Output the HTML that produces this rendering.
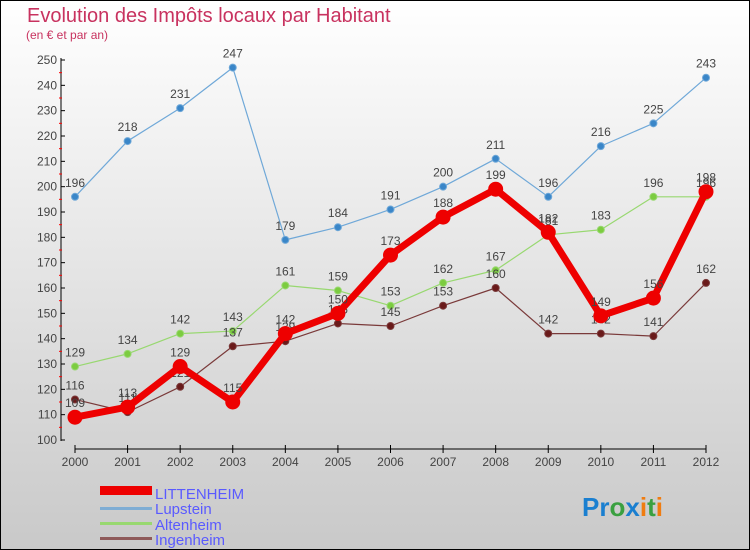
<!DOCTYPE html>
<html><head><meta charset="utf-8"><style>
html,body{margin:0;padding:0}
body{width:750px;height:550px;overflow:hidden;font-family:"Liberation Sans",sans-serif}
svg{display:block}
</style></head><body>
<svg id="c" width="750" height="550">
<defs><linearGradient id="bg" x1="0" y1="0" x2="0" y2="1"><stop offset="0" stop-color="#ffffff"/><stop offset="1" stop-color="#c9c9c9"/></linearGradient></defs>
<rect x="0.5" y="0.5" width="749" height="549" fill="url(#bg)" stroke="#000"/>
<text x="27" y="22" font-size="20" fill="#c8325f">Evolution des Impôts locaux par Habitant</text>
<text x="26" y="39" font-size="12" fill="#c8325f">(en € et par an)</text>
<g id="axes"></g><g id="series"></g>
<g>
<rect x="100" y="486" width="52" height="9" fill="#e00"/>
<text x="155" y="499" font-size="15" fill="#5a5aff">LITTENHEIM</text>
<rect x="100" y="507" width="52" height="3" fill="#7fadd4"/>
<text x="155" y="514" font-size="15" fill="#5a5aff">Lupstein</text>
<rect x="100" y="522" width="52" height="3" fill="#98d870"/>
<text x="155" y="530" font-size="15" fill="#5a5aff">Altenheim</text>
<rect x="100" y="537" width="52" height="3" fill="#8e5a5a"/>
<text x="155" y="545" font-size="15" fill="#5a5aff">Ingenheim</text>
</g>
<text x="582" y="516" font-size="26" font-weight="bold"><tspan fill="#1a7fd0">Pr</tspan><tspan fill="#3aa040">o</tspan><tspan fill="#1a7fd0">x</tspan><tspan fill="#f07c10">i</tspan><tspan fill="#3aa040">t</tspan><tspan fill="#f07c10">i</tspan></text>
</svg>
<script>
const years=[2000,2001,2002,2003,2004,2005,2006,2007,2008,2009,2010,2011,2012];
const littenheim=[109,113,129,115,142,150,173,188,199,182,149,156,198];
const lupstein=[196,218,231,247,179,184,191,200,211,196,216,225,243];
const altenheim=[129,134,142,143,161,159,153,162,167,181,183,196,196];
const ingenheim=[116,111,121,137,139,146,145,153,160,142,142,141,162];
const yTicks=[100,110,120,130,140,150,160,170,180,190,200,210,220,230,240,250];
const NS="http://www.w3.org/2000/svg";
function xs(i){return 75+i*(706-75)/(years.length-1);}
function ys(v){return 440-(v-100)*(380/150);}
function mk(t,a,p){const e=document.createElementNS(NS,t);for(const k in a)e.setAttribute(k,a[k]);p.appendChild(e);return e;}
const ax=document.getElementById('axes');
let l=mk('line',{x1:61,y1:58,x2:61,y2:441,stroke:'#000'},ax);


yTicks.forEach((v,i)=>{
  mk('line',{x1:61,y1:ys(v),x2:65,y2:ys(v),stroke:'#000'},ax);
  if(i<yTicks.length-1)mk('line',{x1:59,y1:ys(v+5),x2:62,y2:ys(v+5),stroke:'#f00'},ax);
  const t=mk('text',{x:57,y:ys(v)+4,'font-size':12,fill:'#444','text-anchor':'end'},ax);
  t.textContent=v;
  
  
});
l=mk('line',{x1:75,y1:449,x2:706,y2:449,stroke:'#000'},ax);


years.forEach((y,i)=>{
  mk('line',{x1:xs(i),y1:445,x2:xs(i),y2:453,stroke:'#000'},ax);
  const t=mk('text',{x:xs(i),y:466,'font-size':12,fill:'#444','text-anchor':'middle'},ax);
  t.textContent=y;
  
  
});
const sg=document.getElementById('series');
function draw(name,data,color,dot,w,r){
  const g=mk('g',{},sg);
  
  
  const p=mk('polyline',{points:data.map((v,i)=>xs(i)+','+ys(v)).join(' '),fill:'none',stroke:color,'stroke-width':w,'stroke-linejoin':'round'},g);
  
  
  data.forEach((v,i)=>{
    const c=mk('circle',{cx:xs(i),cy:ys(v),r:r,fill:dot,stroke:color,'stroke-width':1},g);
    
    
    const t=mk('text',{x:xs(i),y:ys(v)-10,'font-size':12,fill:'#444','text-anchor':'middle'},g);
    t.textContent=v;
    
    
  });
}
draw('lupstein',lupstein,'#6fa8d8','#3a86c8',1.2,3.5);
draw('altenheim',altenheim,'#98d870','#7ccc40',1.2,3.5);
draw('ingenheim',ingenheim,'#7a3a3a','#6a1a1a',1.2,3.5);
draw('littenheim',littenheim,'#e00','#e00',7,7);
</script>
</body></html>
